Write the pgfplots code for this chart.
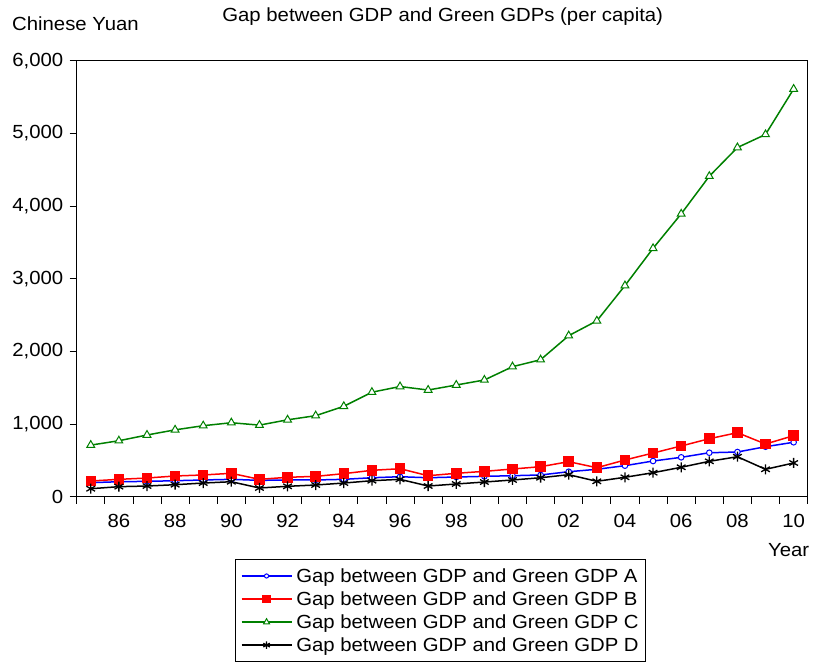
\documentclass[border=0pt]{standalone}
\usepackage{fontspec}
\setmainfont{Liberation Sans}[FakeStretch=1.07]
\usepackage{pgfplots}
\pgfplotsset{compat=1.18}
\usepackage{pgfplotstable}

\definecolor{cgreen}{RGB}{0,128,0}
\newcommand{\fs}{\fontsize{19bp}{22bp}\selectfont}

% per capita gap, Chinese Yuan
\pgfplotstableread{
year A B C D
1985 193 216 710 110
1986 206 239 770 138
1987 211 257 849 147
1988 220 285 920 165
1989 230 299 977 188
1990 239 322 1018 206
1991 225 239 985 120
1992 230 267 1058 143
1993 230 280 1115 161
1994 239 317 1244 188
1995 261 363 1438 220
1996 275 385 1516 239
1997 261 289 1468 147
1998 271 322 1537 175
1999 280 349 1606 202
2000 289 381 1789 230
2001 299 413 1885 261
2002 344 482 2216 303
2003 377 399 2420 212
2004 427 505 2905 267
2005 491 601 3418 330
2006 542 698 3892 405
2007 605 798 4410 487
2008 615 881 4805 550
2009 688 725 4985 377
2010 749 840 5610 464
}\gapdata

\begin{document}
\begin{tikzpicture}
\path[use as bounding box] (-76.7bp,-165.3bp) rectangle (736.3bp,496.7bp);
\begin{axis}[
  at={(0,0)}, anchor=south west,
  scale only axis, width=731bp, height=436bp,
  xmin=1984.5, xmax=2010.5, ymin=0, ymax=6000,
  xtick={1986,1988,...,2010},
  xticklabels={86,88,90,92,94,96,98,00,02,04,06,08,10},
  major x tick style={draw=none},
  minor xtick={1984.5,1985.5,...,2010.5},
  ytick={0,1000,...,6000},
  tick align=outside, xtick pos=bottom, ytick pos=left,
  major tick length=7bp, minor tick length=7bp,
  tick style={black, line width=0.8bp},
  axis line style={line width=0.8bp},
  tick label style={font=\fs},
  xticklabel style={yshift=-7bp},
  yticklabel style={xshift=-3bp, /pgf/number format/.cd, 1000 sep={,}, assume math mode=true},
  legend style={at={(0.498,-0.143)}, anchor=north, draw=black, line width=0.6bp,
    inner xsep=5bp, inner ysep=7bp, font=\fs, cells={anchor=west}, row sep=3.8bp},
  legend image code/.code={\draw[mark repeat=2, mark phase=2, #1, every mark/.append style={scale=0.75}]
    plot coordinates {(0bp,0bp) (25bp,0bp) (50bp,0bp)};},
  every axis plot/.append style={line width=1.5bp},
]
\addplot[blue, mark=*, mark size=2.8bp, mark options={fill=white, line width=1bp}] table[x=year, y=A] {\gapdata};
\addlegendentry{\hspace{2bp}Gap between GDP and Green GDP A}
\addplot[red, mark=square*, mark size=4.5bp, mark options={fill=red}] table[x=year, y=B] {\gapdata};
\addlegendentry{\hspace{2bp}Gap between GDP and Green GDP B}
\addplot[cgreen, mark=triangle*, mark size=4.5bp, mark options={fill=white, line width=1bp}] table[x=year, y=C] {\gapdata};
\addlegendentry{\hspace{2bp}Gap between GDP and Green GDP C}
\addplot[black, mark=asterisk, mark size=5bp, mark options={line width=1.3bp}] table[x=year, y=D] {\gapdata};
\addlegendentry{\hspace{2bp}Gap between GDP and Green GDP D}
\end{axis}
\node[font=\fs] at (366bp,480bp) {Gap between GDP and Green GDPs (per capita)};
\node[font=\fs, anchor=west, inner sep=0pt] at (-64.7bp,472.7bp) {Chinese Yuan};
\node[font=\fs] at (712bp,-53bp) {Year};
\end{tikzpicture}
\end{document}
